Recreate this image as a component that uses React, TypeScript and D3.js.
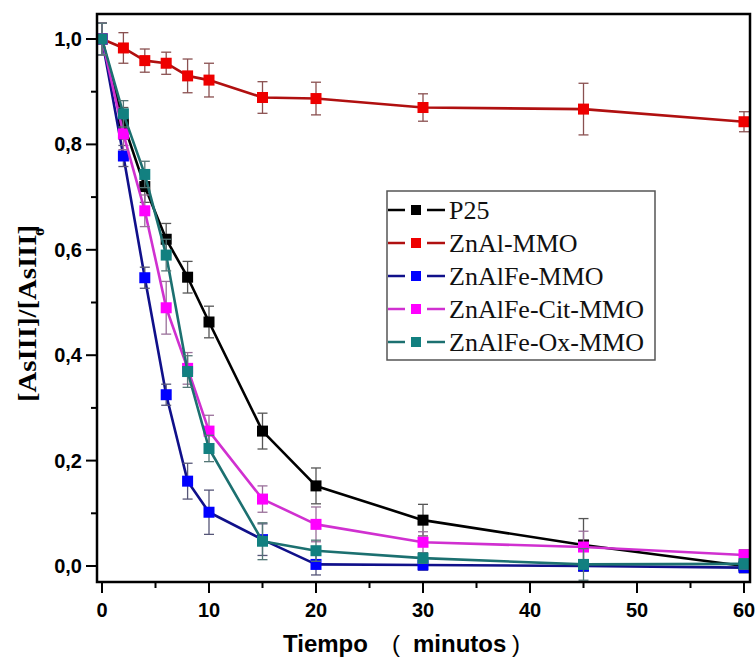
import React from "react";
import * as d3 from "d3";

const times = [0, 2, 4, 6, 8, 10, 15, 20, 30, 45, 60];
const seriesNames = ["P25", "ZnAl-MMO", "ZnAlFe-MMO", "ZnAlFe-Cit-MMO", "ZnAlFe-Ox-MMO"];
const p25 = [1.0, 0.84, 0.72, 0.62, 0.548, 0.463, 0.256, 0.152, 0.087, 0.04, 0.0];
const p25Err = [0.03, 0.03, 0.03, 0.03, 0.03, 0.03, 0.034, 0.034, 0.03, 0.05, 0.01];
const znal = [1.0, 0.983, 0.959, 0.954, 0.93, 0.922, 0.889, 0.887, 0.87, 0.867, 0.843];
const znalErr = [0.03, 0.029, 0.022, 0.021, 0.032, 0.032, 0.03, 0.031, 0.026, 0.049, 0.019];
const znalfe = [1.0, 0.778, 0.547, 0.325, 0.161, 0.102, 0.05, 0.003, 0.002, 0.0, -0.003];
const znalfeErr = [0.03, 0.02, 0.02, 0.02, 0.034, 0.042, 0.03, 0.02, 0.01, 0.01, 0.01];
const cit = [1.0, 0.82, 0.674, 0.49, 0.375, 0.256, 0.127, 0.079, 0.045, 0.036, 0.021];
const citErr = [0.03, 0.03, 0.03, 0.05, 0.03, 0.03, 0.025, 0.033, 0.02, 0.03, 0.01];
const ox = [1.0, 0.858, 0.743, 0.59, 0.369, 0.223, 0.047, 0.029, 0.015, 0.003, 0.004];
const oxErr = [0.03, 0.025, 0.025, 0.03, 0.03, 0.025, 0.035, 0.02, 0.01, 0.03, 0.01];

const lineColors = ["#000000", "#b01010", "#10108a", "#d030d0", "#1c7070"];
const markerColors = ["#000000", "#ee0000", "#0000ff", "#ff00ff", "#128080"];
const errColors = ["#555555", "#8a5050", "#555577", "#9a709a", "#557777"];

const xMajor = [0, 10, 20, 30, 40, 50, 60];
const xMinor = [5, 15, 25, 35, 45, 55];
const yMajor = [0, 0.2, 0.4, 0.6, 0.8, 1.0];
const yMinor = [0.1, 0.3, 0.5, 0.7, 0.9];

const SANS = "'Liberation Sans', Arial, sans-serif";
const SERIF = "'Liberation Serif', 'Times New Roman', serif";

export default function App() {
  const left = 97, right = 750, top = 14, bottom = 582;
  const x = d3.scaleLinear().domain([0, 60]).range([102, 744]);
  const y = d3.scaleLinear().domain([0, 1]).range([566, 39]);
  const data = [p25, znal, znalfe, cit, ox];
  const errs = [p25Err, znalErr, znalfeErr, citErr, oxErr];
  const line = d3
    .line<number>()
    .x((_, i) => x(times[i]))
    .y((v) => y(v));
  const ms = 11;
  const fmt = (v: number) => v.toFixed(1).replace(".", ",");
  return (
    <svg width={756} height={658} style={{ position: "absolute", left: 0, top: 0, background: "#fff" }}>
      <rect x={0} y={0} width={756} height={658} fill="#fff" />
      {data.map((s, si) => (
        <g key={si}>
          <path d={line(s) || ""} fill="none" stroke={lineColors[si]} strokeWidth={2.6} strokeLinejoin="round" />
          {s.map((v, i) => {
            const e = errs[si][i];
            const cx = x(times[i]);
            return (
              <g key={i} stroke={errColors[si]} strokeWidth={1.3}>
                <line x1={cx} x2={cx} y1={y(v + e)} y2={y(v - e)} />
                <line x1={cx - 5} x2={cx + 5} y1={y(v + e)} y2={y(v + e)} />
                <line x1={cx - 5} x2={cx + 5} y1={y(v - e)} y2={y(v - e)} />
              </g>
            );
          })}
          {s.map((v, i) => (
            <rect key={"m" + i} x={x(times[i]) - ms / 2} y={y(v) - ms / 2} width={ms} height={ms} fill={markerColors[si]} />
          ))}
        </g>
      ))}
      <rect x={left} y={top} width={right - left} height={bottom - top} fill="none" stroke="#000" strokeWidth={2.5} />
      {yMajor.map((v) => (
        <g key={"ym" + v}>
          <line x1={left - 11} x2={left} y1={y(v)} y2={y(v)} stroke="#000" strokeWidth={2} />
          <text x={82} y={y(v) + 7} textAnchor="end" fontFamily={SANS} fontWeight="bold" fontSize={20}>
            {fmt(v)}
          </text>
        </g>
      ))}
      {yMinor.map((v) => (
        <line key={"yn" + v} x1={left - 6} x2={left} y1={y(v)} y2={y(v)} stroke="#000" strokeWidth={2} />
      ))}
      {xMajor.map((v) => (
        <g key={"xm" + v}>
          <line x1={x(v)} x2={x(v)} y1={bottom} y2={bottom + 11} stroke="#000" strokeWidth={2} />
          <text x={x(v)} y={617} textAnchor="middle" fontFamily={SANS} fontWeight="bold" fontSize={20}>
            {v}
          </text>
        </g>
      ))}
      {xMinor.map((v) => (
        <line key={"xn" + v} x1={x(v)} x2={x(v)} y1={bottom} y2={bottom + 6} stroke="#000" strokeWidth={2} />
      ))}
      <text y={652} fontFamily={SANS} fontSize={24}>
        <tspan x={283} fontWeight="bold">Tiempo</tspan>
        <tspan x={392} fontWeight="normal">(</tspan>
        <tspan x={413} fontWeight="bold">minutos</tspan>
        <tspan x={512} fontWeight="normal">)</tspan>
      </text>
      <g transform="translate(36,402) rotate(-90)">
        <text x={0} y={0} fontFamily={SERIF} fontWeight="bold" fontSize={26} textLength={177} lengthAdjust="spacingAndGlyphs">
          [AsIII]/[AsIII]
        </text>
        <text x={166} y={8} fontFamily={SERIF} fontWeight="bold" fontSize={16}>
          o
        </text>
      </g>
      <rect x={387} y={191} width={268} height={169} fill="#fff" stroke="#555" strokeWidth={1.5} />
      {seriesNames.map((n, i) => {
        const cy = 210 + i * 33;
        return (
          <g key={n}>
            <line x1={388} x2={405} y1={cy} y2={cy} stroke={lineColors[i]} strokeWidth={2.5} />
            <line x1={427} x2={445} y1={cy} y2={cy} stroke={lineColors[i]} strokeWidth={2.5} />
            <rect x={411} y={cy - 5} width={10} height={10} fill={markerColors[i]} />
            <text x={449} y={cy + 9} fontFamily={SERIF} fontSize={26} fill="#111">
              {n}
            </text>
          </g>
        );
      })}
    </svg>
  );
}
